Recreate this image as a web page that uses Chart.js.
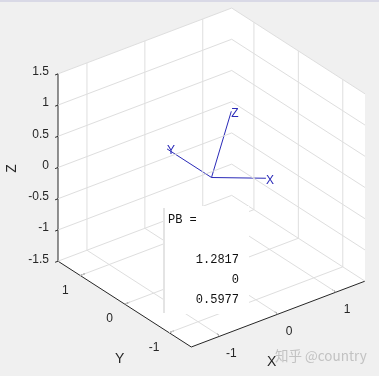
<!DOCTYPE html>
<html>
<head>
<meta charset="utf-8">
<script src="https://cdn.jsdelivr.net/npm/chart.js@4.4.1/dist/chart.umd.min.js"></script>
<style>
  html, body { margin: 0; padding: 0; background: #f0f0f0; }
  #wrap { width: 379px; height: 376px; position: relative; }
</style>
</head>
<body>
<div id="wrap"><canvas id="chart"></canvas></div>
<script>
// axes limits and ticks (same for x, y, z)
const axisLimits = [-1.5, 1.5];
const xTicks = [-1, 0, 1];
const yTicks = [-1, 0, 1];
const zTicks = [-1.5, -1, -0.5, 0, 0.5, 1, 1.5];
const xTickLabels = ['-1', '0', '1'];
const yTickLabels = ['-1', '0', '1'];
const zTickLabels = ['-1.5', '-1', '-0.5', '0', '0.5', '1', '1.5'];

// coordinate frame drawn at the origin (rotated about Y)
const frameOrigin = [0, 0, 0];
const frameX = [0.94, 0, -0.342];
const frameY = [0, 1, 0];
const frameZ = [0.342, 0, 0.94];
const frameLabels = ['X', 'Y', 'Z'];

// printed value of PB
const pbName = 'PB';
const pbValues = ['1.2817', '0', '0.5977'];

// matlab default view
const viewAz = -37.5, viewEl = 30;

const az = viewAz * Math.PI / 180, el = viewEl * Math.PI / 180;
function proj(p) {
  const [x, y, z] = p;
  return {
    x: x * Math.cos(az) + y * Math.sin(az),
    y: -x * Math.sin(az) * Math.sin(el) + y * Math.cos(az) * Math.sin(el) + z * Math.cos(el)
  };
}

const lo = axisLimits[0], hi = axisLimits[1];
const GRID = '#dedede', AX = '#262626', BLUE = '#2a2ab8';
const datasets = [];
function seg(a, b, color) {
  datasets.push({
    data: [proj(a), proj(b)],
    showLine: true, pointRadius: 0, borderWidth: 1,
    borderColor: color, fill: false
  });
}

// back wall y = hi
xTicks.forEach(x => seg([x, hi, lo], [x, hi, hi], GRID));
zTicks.forEach(z => seg([lo, hi, z], [hi, hi, z], GRID));
// back wall x = hi
yTicks.forEach(y => seg([hi, y, lo], [hi, y, hi], GRID));
zTicks.forEach(z => seg([hi, lo, z], [hi, hi, z], GRID));
// floor z = lo
xTicks.forEach(x => seg([x, lo, lo], [x, hi, lo], GRID));
yTicks.forEach(y => seg([lo, y, lo], [hi, y, lo], GRID));

// axis lines
seg([lo, hi, lo], [lo, hi, hi], AX);
seg([lo, lo, lo], [lo, hi, lo], AX);
seg([lo, lo, lo], [hi, lo, lo], AX);
// tick marks
zTicks.forEach(z => seg([lo, hi, z], [lo - 0.05, hi, z], AX));
xTicks.forEach(x => seg([x, lo, lo], [x, lo + 0.08, lo], AX));
yTicks.forEach(y => seg([lo, y, lo], [lo + 0.08, y, lo], AX));

// frame
[frameX, frameY, frameZ].forEach(v => seg(frameOrigin, v, BLUE));

const hull = [[lo, hi, hi], [hi, hi, hi], [hi, lo, hi], [hi, lo, lo], [lo, lo, lo], [lo, hi, lo]];

const scene = {
  id: 'scene',
  beforeDraw(chart) {
    const c = chart.ctx, sx = chart.scales.x, sy = chart.scales.y;
    const px = p => { const q = proj(p); return [sx.getPixelForValue(q.x), sy.getPixelForValue(q.y)]; };
    c.save();
    c.fillStyle = '#f0f0f0';
    c.fillRect(0, 0, chart.width, chart.height);
    c.fillStyle = '#d9d9e6';
    c.fillRect(0, 0, chart.width, 2);
    c.fillStyle = '#ffffff';
    c.beginPath();
    hull.forEach((p, i) => { const [a, b] = px(p); i ? c.lineTo(a, b) : c.moveTo(a, b); });
    c.closePath();
    c.fill();
    c.restore();
  },
  afterDatasetsDraw(chart) {
    const c = chart.ctx, sx = chart.scales.x, sy = chart.scales.y;
    const px = p => { const q = proj(p); return [sx.getPixelForValue(q.x), sy.getPixelForValue(q.y)]; };
    c.save();
    c.textBaseline = 'middle';

    // tick labels
    c.fillStyle = AX;
    c.font = '12px "Liberation Sans", Arial, sans-serif';
    c.textAlign = 'right';
    zTicks.forEach((z, i) => { const [a, b] = px([lo, hi, z]); c.fillText(zTickLabels[i], a - 9, b - 2); });
    c.textAlign = 'center';
    xTicks.forEach((x, i) => { const [a, b] = px([x, lo, lo]); c.fillText(xTickLabels[i], a + 11, b + 17.5); });
    yTicks.forEach((y, i) => { const [a, b] = px([lo, y, lo]); c.fillText(yTickLabels[i], a - 15, b + 15); });

    // axis labels
    c.font = '14px "Liberation Sans", Arial, sans-serif';
    let [a, b] = px([0, lo, lo]);
    c.fillText('X', a - 6.5, b + 48.5);
    [a, b] = px([lo, 0, lo]);
    c.fillText('Y', a - 5, b + 55);
    [a, b] = px([lo, hi, 0]);
    c.save();
    c.translate(a - 46, b + 1);
    c.rotate(-Math.PI / 2);
    c.fillText('Z', 0, 0);
    c.restore();

    // frame labels
    c.fillStyle = BLUE;
    c.font = '12px "Liberation Sans", Arial, sans-serif';
    c.textAlign = 'left';
    [frameX, frameY, frameZ].forEach((v, i) => { const [p, q] = px(v); c.fillText(frameLabels[i], p, q + 2); });

    // command window output box
    const ca = chart.chartArea;
    const bx = ca.left + 165, by = ca.top + 206;
    c.fillStyle = '#ffffff';
    c.fillRect(bx, by, 84, 108);
    c.fillStyle = '#e4e4e4';
    c.fillRect(bx - 2, by + 2, 2, 105);
    c.fillStyle = '#111111';
    c.font = '12px "Liberation Mono", "DejaVu Sans Mono", monospace';
    c.fillText(pbName + ' =', bx + 3, by + 14);
    c.textAlign = 'right';
    pbValues.forEach((s, i) => c.fillText(s, bx + 74, by + 54 + i * 20));

    // watermark
    c.textAlign = 'left';
    c.font = '13.5px "Noto Sans CJK SC", sans-serif';
    c.fillStyle = '#c2c2c2';
    c.fillText('知乎 @country', ca.left + 275, ca.top + 356);
    c.restore();
  }
};

new Chart(document.getElementById('chart'), {
  type: 'scatter',
  data: { datasets: datasets },
  options: {
    responsive: true,
    maintainAspectRatio: false,
    animation: false,
    layout: { padding: 0 },
    plugins: { legend: { display: false }, tooltip: { enabled: false } },
    scales: {
      x: { type: 'linear', min: -2.898, max: 2.295, display: false },
      y: { type: 'linear', min: -2.753, max: 2.462, display: false }
    }
  },
  plugins: [scene]
});
</script>
</body>
</html>
